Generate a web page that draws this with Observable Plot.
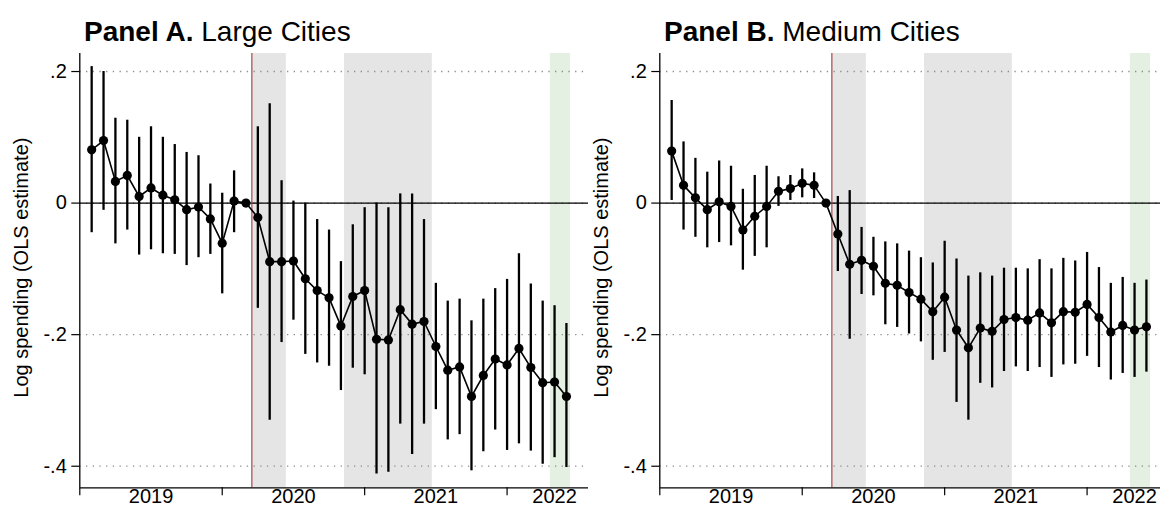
<!DOCTYPE html>
<html>
<head>
<meta charset="utf-8">
<script src="https://cdn.jsdelivr.net/npm/d3@7"></script>
<script src="https://cdn.jsdelivr.net/npm/@observablehq/plot@0.6"></script>
<style>
  html, body { margin: 0; padding: 0; background: #fff; overflow: hidden; }
  #root { position: relative; width: 1160px; height: 507px; overflow: hidden; font-family: "Liberation Sans", Arial, sans-serif; }
  .panel { position: absolute; top: 0; width: 590px; height: 507px; }
  .title { position: absolute; top: 18px; left: 84px; font-size: 28px; line-height: 28px; white-space: nowrap; color: #000; }
  .title b { font-weight: bold; }
  .chart { position: absolute; top: 48px; left: 0; }
</style>
</head>
<body>
<div id="root"></div>
<script>
// Month index: 0 = Jan 2019 boundary; points run Feb 2019 (1) .. Jun 2022 (41)
const months = [1,2,3,4,5,6,7,8,9,10,11,12,13,14,15,16,17,18,19,20,21,22,23,24,25,26,27,28,29,30,31,32,33,34,35,36,37,38,39,40,41];

// Panel A: Large Cities
const largeEst = [0.081,0.095,0.033,0.042,0.010,0.023,0.012,0.005,-0.010,-0.006,-0.024,-0.061,0.003,0,-0.022,-0.089,-0.089,-0.088,-0.115,-0.133,-0.144,-0.187,-0.142,-0.133,-0.207,-0.208,-0.162,-0.184,-0.180,-0.218,-0.254,-0.249,-0.294,-0.262,-0.237,-0.246,-0.221,-0.250,-0.273,-0.272,-0.294];
const largeHi  = [0.2075,0.200,0.129,0.126,0.100,0.116,0.100,0.089,0.077,0.072,0.029,0.015,0.049,null,0.116,0.151,0.034,0.003,0.000,-0.025,-0.041,-0.089,-0.033,-0.007,0.000,-0.007,0.014,0.014,-0.025,-0.122,-0.149,-0.146,-0.179,-0.146,-0.130,-0.116,-0.077,-0.123,-0.149,-0.156,-0.183];
const largeLo  = [-0.045,-0.011,-0.062,-0.041,-0.079,-0.071,-0.077,-0.078,-0.095,-0.083,-0.078,-0.138,-0.045,null,-0.160,-0.330,-0.212,-0.178,-0.230,-0.243,-0.248,-0.285,-0.251,-0.261,-0.412,-0.409,-0.336,-0.382,-0.336,-0.314,-0.360,-0.352,-0.407,-0.378,-0.345,-0.376,-0.366,-0.377,-0.397,-0.387,-0.402];

// Panel B: Medium Cities
const mediumEst = [0.079,0.027,0.008,-0.010,0.002,-0.005,-0.041,-0.020,-0.005,0.018,0.022,0.030,0.027,0,-0.047,-0.093,-0.087,-0.096,-0.122,-0.125,-0.136,-0.146,-0.165,-0.143,-0.193,-0.220,-0.190,-0.195,-0.177,-0.174,-0.178,-0.167,-0.182,-0.165,-0.166,-0.154,-0.174,-0.196,-0.186,-0.193,-0.188];
const mediumHi  = [0.156,0.093,0.068,0.047,0.064,0.056,0.021,0.042,0.056,0.040,0.042,0.052,0.046,null,0.010,0.019,-0.037,-0.052,-0.059,-0.062,-0.073,-0.083,-0.091,-0.058,-0.085,-0.111,-0.106,-0.111,-0.099,-0.099,-0.100,-0.086,-0.100,-0.084,-0.088,-0.075,-0.098,-0.122,-0.113,-0.122,-0.117];
const mediumLo  = [0.004,-0.041,-0.052,-0.068,-0.060,-0.065,-0.102,-0.081,-0.068,-0.005,0.004,0.008,0.007,null,-0.104,-0.207,-0.139,-0.141,-0.185,-0.189,-0.199,-0.211,-0.239,-0.227,-0.303,-0.330,-0.274,-0.281,-0.256,-0.249,-0.256,-0.250,-0.265,-0.246,-0.245,-0.233,-0.250,-0.269,-0.259,-0.265,-0.257];

// Axes
const yTicks = [0.2, 0, -0.2, -0.4];
const yTickLabels = [".2", "0", "-.2", "-.4"];
const yearBoundaries = [0, 12, 24, 36];
const yearLabelPos = [6, 18, 30, 40];
const yearLabels = ["2019", "2020", "2021", "2022"];
const yLabel = "Log spending (OLS estimate)";

// Event markers
const covidStart = [14.5];
const greyStart = [14.5, 22.3];
const greyEnd = [17.4, 29.7];
const greenStart = [39.65];
const greenEnd = [41.35];

const panels = [
  {bold: "Panel A.", rest: " Large Cities", est: largeEst, hi: largeHi, lo: largeLo, left: 0},
  {bold: "Panel B.", rest: " Medium Cities", est: mediumEst, hi: mediumHi, lo: mediumLo, left: 580}
];

const root = document.getElementById("root");
const FONT = "Liberation Sans, Arial, sans-serif";

for (const p of panels) {
  const rows = months.map((m, i) => ({m, est: p.est[i], hi: p.hi[i], lo: p.lo[i]}));
  const greyBands = greyStart.map((s, i) => ({x1: s, x2: greyEnd[i]}));
  const greenBands = greenStart.map((s, i) => ({x1: s, x2: greenEnd[i]}));

  const chart = Plot.plot({
    width: 590,
    height: 459,
    marginLeft: 79.3,
    marginRight: 2,
    marginTop: 5,
    marginBottom: 19.7,
    x: {domain: [0, 42.86], axis: null},
    y: {domain: [-0.4328, 0.2274], axis: null},
    style: {background: "transparent", fontFamily: FONT, fontSize: "20px", color: "#000", overflow: "visible"},
    marks: [
      Plot.rect(greyBands, {x1: "x1", x2: "x2", fill: "#e5e5e5"}),
      Plot.rect(greenBands, {x1: "x1", x2: "x2", fill: "#e3f0e2"}),
      Plot.ruleY(yTicks, {stroke: "#8c8c8c", strokeWidth: 1.3, strokeDasharray: "1.3,5.4"}),
      Plot.ruleY([0], {stroke: "#000", strokeWidth: 1.2}),
      Plot.ruleX(covidStart, {stroke: "#9b2c2c", strokeWidth: 1}),
      Plot.ruleX(rows.filter(d => d.hi != null), {x: "m", y1: "lo", y2: "hi", stroke: "#000", strokeWidth: 2.3}),
      Plot.line(rows, {x: "m", y: "est", stroke: "#000", strokeWidth: 1.6}),
      Plot.dot(rows, {x: "m", y: "est", r: 4.6, fill: "#000", stroke: "none"}),
      Plot.ruleX([0], {stroke: "#000", strokeWidth: 1.3}),
      Plot.ruleY([-0.4328], {stroke: "#000", strokeWidth: 1.3}),
      Plot.axisY({ticks: yTicks, tickSize: 8, tickPadding: 5, tickFormat: d => yTickLabels[yTicks.indexOf(d)], label: null, fontSize: 20, stroke: "#000", strokeWidth: 1.2}),
      Plot.axisX({ticks: yearBoundaries, tickSize: 8, tickFormat: () => "", label: null, stroke: "#000", strokeWidth: 1.2}),
      Plot.axisX({ticks: yearLabelPos, tickSize: 0, tickPadding: 1.4, tickFormat: d => yearLabels[yearLabelPos.indexOf(d)], label: null, fontSize: 20}),
      Plot.text([yLabel], {frameAnchor: "left", textAnchor: "middle", rotate: -90, dx: -58.1, dy: -3, fontSize: 20, fill: "#000"})
    ]
  });

  const panel = document.createElement("div");
  panel.className = "panel";
  panel.style.left = p.left + "px";
  const title = document.createElement("div");
  title.className = "title";
  const b = document.createElement("b");
  b.textContent = p.bold;
  title.appendChild(b);
  title.appendChild(document.createTextNode(p.rest));
  panel.appendChild(title);
  chart.classList.add("chart");
  chart.style.position = "absolute";
  chart.style.top = "48px";
  chart.style.left = "0px";
  panel.appendChild(chart);
  root.appendChild(panel);
}
</script>
</body>
</html>
